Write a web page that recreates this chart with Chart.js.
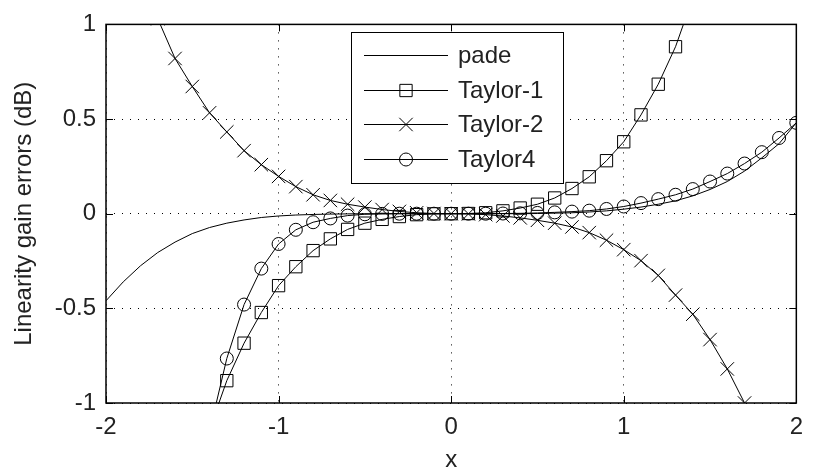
<!DOCTYPE html>
<html>
<head>
<meta charset="utf-8">
<script src="https://cdn.jsdelivr.net/npm/chart.js@4/dist/chart.umd.min.js"></script>
<style>
  html, body { margin: 0; padding: 0; background: #fff; }
  #wrap { width: 813px; height: 472px; }
</style>
</head>
<body>
<div id="wrap"><canvas id="chart" width="813" height="472"></canvas></div>
<script>
// sample points (step 0.1)
const xs = [-2.0, -1.9, -1.8, -1.7, -1.6, -1.5, -1.4, -1.3, -1.2, -1.1, -1.0,
            -0.9, -0.8, -0.7, -0.6, -0.5, -0.4, -0.3, -0.2, -0.1, 0.0,
             0.1, 0.2, 0.3, 0.4, 0.5, 0.6, 0.7, 0.8, 0.9, 1.0,
             1.1, 1.2, 1.3, 1.4, 1.5, 1.6, 1.7, 1.8, 1.9, 2.0];

// gain error (dB) per approximation
const pade = [-0.46, -0.36, -0.275, -0.205, -0.15, -0.105, -0.073, -0.05, -0.033, -0.02, -0.012,
              -0.007, -0.004, -0.002, -0.001, 0, 0, 0, 0, 0, 0,
              0, 0, 0, 0, 0.001, 0.003, 0.005, 0.009, 0.015, 0.024,
              0.035, 0.05, 0.068, 0.094, 0.128, 0.17, 0.225, 0.295, 0.37, 0.48];
const taylor1 = [null, null, null, null, null, null, -1.14, -0.882, -0.684, -0.522, -0.38,
                 -0.28, -0.195, -0.133, -0.083, -0.05, -0.03, -0.015, -0.005, -0.001, 0,
                 0.001, 0.005, 0.015, 0.03, 0.05, 0.083, 0.133, 0.195, 0.28, 0.38,
                 0.522, 0.684, 0.882, 1.14, null, null, null, null, null, null];
const taylor2 = [null, null, 1.25, 1.03, 0.82, 0.672, 0.533, 0.432, 0.333, 0.259, 0.197,
                 0.143, 0.1, 0.07, 0.05, 0.035, 0.022, 0.012, 0.005, 0.001, 0,
                 -0.001, -0.005, -0.012, -0.022, -0.035, -0.05, -0.07, -0.1, -0.14, -0.19,
                 -0.248, -0.326, -0.43, -0.531, -0.665, -0.82, -1.0, -1.25, null, null];
const taylor4 = [null, null, null, null, null, null, -1.15, -0.765, -0.48, -0.29, -0.16,
                 -0.085, -0.045, -0.025, -0.01, -0.003, -0.001, 0, 0, 0, 0,
                 0, 0, 0.001, 0.002, 0.004, 0.007, 0.011, 0.016, 0.025, 0.038,
                 0.056, 0.077, 0.1, 0.13, 0.17, 0.212, 0.265, 0.325, 0.4, 0.48];

const seriesNames = ["pade", "Taylor-1", "Taylor-2", "Taylor4"];
const xTicks = [-2, -1, 0, 1, 2];
const yTicks = [-1, -0.5, 0, 0.5, 1];

const FONT = "'Liberation Sans', Arial, Helvetica, sans-serif";
const INK = "#222";

function pts(ys) {
  return xs.map((x, i) => ({ x: x, y: ys[i] }));
}

function makeSet(label, ys, style, radius) {
  return {
    label: label,
    data: pts(ys),
    borderColor: "#000",
    borderWidth: 1,
    pointStyle: style,
    pointRadius: radius,
    pointBorderColor: "#000",
    pointBackgroundColor: "rgba(0,0,0,0)",
    pointBorderWidth: 1,
    tension: 0,
    fill: false,
    clip: 0
  };
}

// boxed legend inside the axes
const legendBox = { left: 351, top: 32, right: 563, bottom: 183 };
const boxLegend = {
  id: "boxLegend",
  afterDatasetsDraw(chart) {
    const ctx = chart.ctx;
    const b = legendBox;
    ctx.save();
    ctx.fillStyle = "#fff";
    ctx.fillRect(b.left, b.top, b.right - b.left, b.bottom - b.top);
    ctx.strokeStyle = "#000";
    ctx.lineWidth = 1;
    ctx.strokeRect(b.left + 0.5, b.top + 0.5, b.right - b.left, b.bottom - b.top);
    chart.data.datasets.forEach((ds, i) => {
      const y = Math.round(b.top + 23 + i * 34.5) + 0.5;
      ctx.beginPath();
      ctx.moveTo(364, y);
      ctx.lineTo(448, y);
      ctx.strokeStyle = "#000";
      ctx.lineWidth = 1;
      ctx.stroke();
      if (ds.pointRadius > 0) {
        ctx.fillStyle = "rgba(0,0,0,0)";
        Chart.helpers.drawPoint(ctx, {
          pointStyle: ds.pointStyle,
          radius: ds.pointRadius,
          borderWidth: 1,
          rotation: 0
        }, 406, y);
      }
      ctx.fillStyle = INK;
      ctx.font = "24px " + FONT;
      ctx.textAlign = "left";
      ctx.textBaseline = "middle";
      ctx.fillText(ds.label, 458, y + 1);
    });
    ctx.restore();
  }
};

// solid axes box with inward tick marks
const frame = {
  id: "frame",
  afterDraw(chart) {
    const { ctx, chartArea: a, scales } = chart;
    const tl = 7;
    ctx.save();
    ctx.strokeStyle = "#000";
    ctx.lineWidth = 1;
    ctx.beginPath();
    xTicks.forEach(v => {
      const px = Math.round(scales.x.getPixelForValue(v)) + 0.5;
      ctx.moveTo(px, a.bottom); ctx.lineTo(px, a.bottom - tl);
      ctx.moveTo(px, a.top); ctx.lineTo(px, a.top + tl);
    });
    yTicks.forEach(v => {
      const py = Math.round(scales.y.getPixelForValue(v)) + 0.5;
      ctx.moveTo(a.left, py); ctx.lineTo(a.left + tl, py);
      ctx.moveTo(a.right, py); ctx.lineTo(a.right - tl, py);
    });
    ctx.stroke();
    ctx.lineWidth = 1.5;
    ctx.strokeRect(a.left, a.top, a.right - a.left, a.bottom - a.top);
    ctx.restore();
  }
};

new Chart(document.getElementById("chart"), {
  type: "line",
  data: {
    datasets: [
      makeSet(seriesNames[0], pade, false, 0),
      makeSet(seriesNames[1], taylor1, "rect", 8.7),
      makeSet(seriesNames[2], taylor2, "crossRot", 9.5),
      makeSet(seriesNames[3], taylor4, "circle", 6.5)
    ]
  },
  options: {
    responsive: false,
    animation: false,
    events: [],
    layout: { padding: { top: 20, right: 3, left: 0, bottom: 0 } },
    plugins: {
      legend: { display: false },
      tooltip: { enabled: false }
    },
    scales: {
      x: {
        type: "linear",
        min: -2,
        max: 2,
        afterBuildTicks: s => { s.ticks = xTicks.map(v => ({ value: v })); },
        afterFit: s => { s.height = 69; },
        ticks: {
          color: INK,
          font: { family: FONT, size: 24 },
          padding: 10,
          callback: v => String(v)
        },
        grid: { color: "#000", lineWidth: 1, drawTicks: false },
        border: { display: false, dash: [1, 7] },
        title: {
          display: true,
          text: "x",
          color: INK,
          font: { family: FONT, size: 24 },
          padding: { top: 0, bottom: -3 }
        }
      },
      y: {
        type: "linear",
        min: -1,
        max: 1,
        afterBuildTicks: s => { s.ticks = yTicks.map(v => ({ value: v })); },
        afterFit: s => { s.width = 106; },
        ticks: {
          color: INK,
          font: { family: FONT, size: 24 },
          padding: 10,
          callback: v => String(v)
        },
        grid: { color: "#000", lineWidth: 1, drawTicks: false },
        border: { display: false, dash: [1, 7] },
        title: {
          display: true,
          text: "Linearity gain errors (dB)",
          color: INK,
          font: { family: FONT, size: 24 },
          padding: { top: 10, bottom: 0 }
        }
      }
    }
  },
  plugins: [boxLegend, frame]
});
</script>
</body>
</html>
